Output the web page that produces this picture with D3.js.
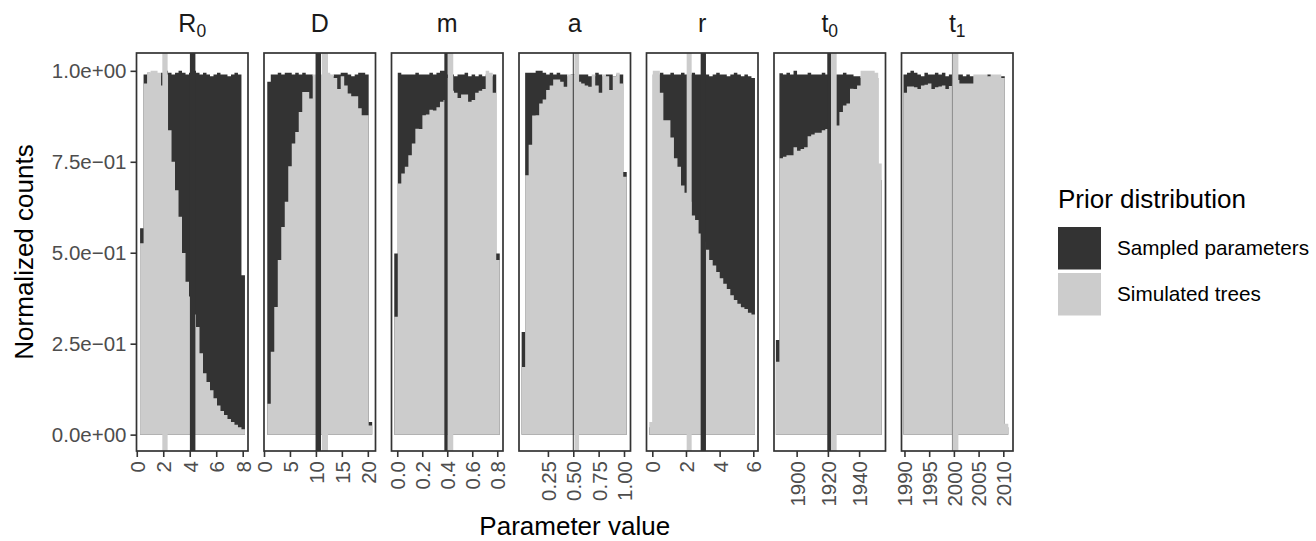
<!DOCTYPE html>
<html>
<head>
<meta charset="utf-8">
<script src="https://cdn.jsdelivr.net/npm/d3@7"></script>
<style>
	body { margin: 0; background: #fff; }
	text { font-family: "Liberation Sans", Arial, Helvetica, sans-serif; }
</style>
</head>
<body>
<svg id="chart" width="1316" height="541"></svg>
<script>

///////////////////////////////////////////////////////////////////////
// data

const paramNames = [ "R", "D", "m", "a", "r", "t", "t" ];
const paramSubs  = [ "0", "",  "",  "",  "",  "0", "1" ];

const xDomains = [
	[ -0.02, 8.40 ], [ 0, 21.48 ], [ -0.046, 0.846 ], [ -0.035, 1.064 ],
	[ -0.345, 6.28 ], [ 1885.5, 1956.9 ], [ 1989.4, 2011.96 ]
];
// first / last bin edge of each histogram
const binRanges = [
	[ 0.25, 8.17 ], [ 0.63, 20.84 ], [ -0.024, 0.82 ], [ -0.009, 1.027 ],
	[ -0.18, 6.10 ], [ 1886.7, 1954.5 ], [ 1989.8, 2011.0 ]
];
const xTicks = [
	[ 0, 2, 4, 6, 8 ], [ 0, 5, 10, 15, 20 ], [ 0, 0.2, 0.4, 0.6, 0.8 ],
	[ 0.25, 0.5, 0.75, 1 ], [ 0, 2, 4, 6 ], [ 1900, 1920, 1940 ],
	[ 1990, 1995, 2000, 2005, 2010 ]
];
const xTickFormats = [ "d", "d", ".1f", ".2f", "d", "d", "d" ];
const yTicks = [ 0, 0.25, 0.5, 0.75, 1 ];

// reference lines: light band and dark line per panel
const refLight = [ 2.13, 11.75, 0.426, 0.534, 2.19, 1923.8, 2000.3 ];
const refDark  = [ 4.22, 10.46, 0.39, 0.5, 3.03, 1920.8, 1999.7 ];

// normalized counts, "Sampled parameters"
const sampled = [
	[ 0.567, 0.99, 0.995, 0.99, 0.99, 0.985, 0.995, 1.0, 0.995, 0.99, 0.995, 1.0, 0.995, 0.99, 0.995, 1.0, 0.995, 0.99, 0.995, 0.99, 0.985, 0.99, 0.995, 0.99, 0.99, 0.985, 0.99, 0.995, 0.99, 0.438 ],
	[ 0.97, 0.99, 0.99, 0.995, 0.99, 0.995, 0.995, 0.99, 0.995, 0.99, 0.995, 0.99, 0.99, 0.985, 0.99, 0.985, 0.99, 0.99, 0.985, 0.99, 0.99, 0.995, 0.995, 0.99, 0.985, 0.99, 0.995, 0.995, 0.99, 0.035 ],
	[ 0.498, 0.995, 0.99, 0.99, 0.99, 0.99, 0.995, 0.99, 0.99, 0.99, 0.995, 0.99, 0.995, 1.0, 1.0, 0.99, 0.99, 0.985, 0.99, 0.99, 0.995, 0.985, 0.99, 0.985, 0.99, 0.985, 0.99, 0.985, 0.99, 0.498 ],
	[ 0.282, 0.995, 0.995, 0.995, 1.0, 1.0, 0.995, 0.99, 0.995, 0.99, 0.995, 0.99, 0.99, 0.985, 0.99, 0.99, 0.99, 0.99, 0.99, 0.985, 0.985, 0.995, 0.99, 0.985, 0.99, 0.99, 0.985, 0.99, 0.99, 0.722 ],
	[ 0.02, 0.99, 0.99, 0.995, 0.99, 0.99, 0.995, 0.99, 0.99, 0.995, 0.99, 0.99, 0.995, 0.99, 0.99, 0.995, 0.99, 0.985, 0.99, 0.995, 0.99, 0.99, 0.985, 0.99, 0.995, 0.99, 0.985, 0.99, 0.985, 0.98 ],
	[ 0.26, 0.993, 0.99, 0.995, 0.99, 1.0, 0.99, 0.99, 0.99, 0.995, 0.99, 0.99, 0.99, 0.995, 0.99, 0.99, 0.995, 0.99, 0.99, 0.995, 0.99, 0.99, 0.985, 0.985, 0.98, 0.98, 0.98, 0.98, 0.98, 0.70 ],
	[ 0.99, 0.995, 1.0, 0.995, 0.99, 0.985, 0.995, 0.99, 0.99, 0.995, 0.99, 0.995, 0.985, 0.99, 0.98, 0.99, 0.99, 0.985, 0.99, 0.985, 0.985, 0.985, 0.98, 0.985, 0.99, 0.985, 0.98, 0.985, 0.985, 0.02 ]
];

// normalized counts, "Simulated trees"
const simulated = [
	[ 0.526, 0.965, 0.995, 1.0, 1.0, 0.995, 0.96, 0.99, 0.837, 0.75, 0.672, 0.599, 0.499, 0.42, 0.38, 0.33, 0.296, 0.224, 0.169, 0.145, 0.122, 0.10, 0.08, 0.065, 0.054, 0.043, 0.035, 0.027, 0.02, 0.015 ],
	[ 0.085, 0.228, 0.351, 0.48, 0.571, 0.64, 0.738, 0.80, 0.832, 0.887, 0.942, 0.942, 0.924, 0.99, 0.99, 0.99, 0.99, 0.995, 0.99, 0.98, 0.95, 0.985, 0.96, 0.938, 0.93, 0.93, 0.897, 0.878, 0.878, 0.025 ],
	[ 0.324, 0.69, 0.718, 0.736, 0.768, 0.80, 0.841, 0.84, 0.878, 0.88, 0.893, 0.891, 0.90, 0.915, 0.92, 0.98, 0.945, 0.94, 0.925, 0.935, 0.935, 0.915, 0.92, 0.94, 0.945, 0.95, 1.0, 0.995, 0.94, 0.48 ],
	[ 0.186, 0.713, 0.797, 0.877, 0.878, 0.91, 0.921, 0.947, 0.96, 0.976, 0.976, 0.97, 0.956, 0.99, 0.99, 0.99, 0.97, 0.965, 0.96, 0.956, 0.99, 0.96, 0.94, 0.99, 0.985, 0.947, 0.985, 0.995, 0.965, 0.709 ],
	[ 0.035, 1.0, 1.0, 0.94, 0.864, 0.864, 0.817, 0.76, 0.736, 0.685, 0.665, 0.64, 0.602, 0.59, 0.553, 0.53, 0.508, 0.48, 0.465, 0.447, 0.43, 0.415, 0.40, 0.383, 0.37, 0.36, 0.35, 0.345, 0.335, 0.33 ],
	[ 0.20, 0.76, 0.764, 0.768, 0.768, 0.79, 0.78, 0.785, 0.79, 0.82, 0.825, 0.83, 0.83, 0.837, 0.84, 0.84, 0.95, 0.85, 0.887, 0.905, 0.91, 0.951, 0.95, 0.96, 1.0, 1.0, 1.0, 1.0, 0.995, 0.745 ],
	[ 0.94, 0.957, 0.957, 0.955, 0.95, 0.96, 0.962, 0.965, 0.95, 0.955, 0.957, 0.96, 0.95, 0.958, 0.965, 0.975, 0.965, 0.965, 0.965, 0.965, 0.99, 0.99, 0.99, 0.99, 0.985, 0.99, 0.99, 0.99, 0.98, 0.03 ]
];

const legendLabels = [ "Sampled parameters", "Simulated trees" ];

///////////////////////////////////////////////////////////////////////
// layout / style

const DARK = "#333333", LIGHT = "#cccccc";
const panelLeft = 136.5, panelStep = 127.5, panelW = 111.5;
const panelTop = 53, panelBottom = 451;
const lightW = [ 5.3, 6, 5.5, 4.7, 5, 5.7, 6 ];
const darkW  = [ 5.5, 5.5, 3.3, 1, 5.3, 3.7, 1 ];
const darkCol = [ DARK, DARK, DARK, DARK, DARK, DARK, "#8c8c8c" ];

const svg = d3.select( "#chart" );

const y = d3.scaleLinear()
	.domain( [ -0.045, 1.049 ] )
	.range( [ panelBottom, panelTop ] );

function sci( v )	{
	if ( v === 0 ) return( "0.0e+00" );
	let e = Math.floor( Math.log10( Math.abs( v ) ) + 1e-9 );
	let m = v / Math.pow( 10, e );
	return( m.toFixed( 1 ) + "e" + ( e < 0 ? "\u2212" : "+" ) + String( Math.abs( e ) ).padStart( 2, "0" ) );
}

paramNames.forEach( ( name, i ) => draw_panel( i ) );
draw_titles();
draw_legend();

///////////////////////////////////////////////////////////////////////

function draw_panel( i )	{

	let left = panelLeft + i * panelStep;
	let x = d3.scaleLinear()
		.domain( xDomains[ i ] )
		.range( [ left, left + panelW ] );

	let n = sampled[ i ].length;
	let w = ( binRanges[ i ][ 1 ] - binRanges[ i ][ 0 ] ) / n;

	// step points: one per bin left edge, plus the closing right edge
	let steps = vals => vals
		.map( ( v, k ) => [ binRanges[ i ][ 0 ] + k * w, v ] )
		.concat( [ [ binRanges[ i ][ 1 ], vals[ n - 1 ] ] ] );

	let area = d3.area()
		.x( d => x( d[ 0 ] ) )
		.y0( y( 0 ) )
		.y1( d => y( d[ 1 ] ) )
		.curve( d3.curveStepAfter );

	svg.append( "clipPath" )
		.attr( "id", "clip" + i )
		.append( "rect" )
			.attr( "x", left ).attr( "y", panelTop )
			.attr( "width", panelW ).attr( "height", panelBottom - panelTop );

	let g = svg.append( "g" ).attr( "clip-path", "url(#clip" + i + ")" );

	g.append( "path" )
		.attr( "d", area( steps( sampled[ i ] ) ) )
		.attr( "fill", DARK );

	g.append( "path" )
		.attr( "d", area( steps( simulated[ i ] ) ) )
		.attr( "fill", LIGHT );

	g.append( "rect" )
		.attr( "x", x( refLight[ i ] ) - lightW[ i ] / 2 )
		.attr( "width", lightW[ i ] )
		.attr( "y", panelTop ).attr( "height", panelBottom - panelTop )
		.attr( "fill", LIGHT );

	g.append( "rect" )
		.attr( "x", x( refDark[ i ] ) - darkW[ i ] / 2 )
		.attr( "width", darkW[ i ] )
		.attr( "y", panelTop ).attr( "height", panelBottom - panelTop )
		.attr( "fill", darkCol[ i ] );

	// panel border
	svg.append( "rect" )
		.attr( "x", left ).attr( "y", panelTop )
		.attr( "width", panelW ).attr( "height", panelBottom - panelTop )
		.attr( "fill", "none" )
		.attr( "stroke", DARK )
		.attr( "stroke-width", 1.7 );

	// x axis
	let ax = svg.append( "g" )
		.attr( "transform", "translate(0," + panelBottom + ")" )
		.call( d3.axisBottom( x )
			.tickValues( xTicks[ i ] )
			.tickFormat( d3.format( xTickFormats[ i ] ) )
			.tickSize( 6 ) );
	ax.select( ".domain" ).remove();
	ax.selectAll( "line" ).attr( "stroke", DARK ).attr( "stroke-width", 1.6 );
	ax.selectAll( "text" )
		.attr( "transform", "rotate(-90)" )
		.attr( "x", -10 ).attr( "y", 0 ).attr( "dy", "0.36em" )
		.attr( "text-anchor", "end" )
		.attr( "fill", "#4d4d4d" )
		.style( "font-size", "20.5px" );

	// y axis on first panel only
	if ( i === 0 )	{
		let ay = svg.append( "g" )
			.attr( "transform", "translate(" + left + ",0)" )
			.call( d3.axisLeft( y )
				.tickValues( yTicks )
				.tickFormat( sci )
				.tickSize( 6 )
				.tickPadding( 4 ) );
		ay.select( ".domain" ).remove();
		ay.selectAll( "line" ).attr( "stroke", DARK ).attr( "stroke-width", 1.6 );
		ay.selectAll( "text" )
			.attr( "fill", "#4d4d4d" )
			.style( "font-size", "20.5px" );
	}

	// strip label
	let strip = svg.append( "text" )
		.attr( "x", left + panelW / 2 )
		.attr( "y", 32 )
		.attr( "text-anchor", "middle" )
		.style( "font-size", "25px" )
		.attr( "fill", "#1a1a1a" )
		.text( paramNames[ i ] );
	if ( paramSubs[ i ] )
		strip.append( "tspan" )
			.attr( "dy", 5 )
			.style( "font-size", "17.5px" )
			.text( paramSubs[ i ] );
}

function draw_titles()	{

	let mid = panelLeft + ( 6 * panelStep + panelW ) / 2;

	svg.append( "text" )
		.attr( "x", mid ).attr( "y", 535 )
		.attr( "text-anchor", "middle" )
		.style( "font-size", "26px" )
		.text( "Parameter value" );

	svg.append( "text" )
		.attr( "transform", "translate(33," + ( ( panelTop + panelBottom ) / 2 ) + ") rotate(-90)" )
		.attr( "text-anchor", "middle" )
		.style( "font-size", "26px" )
		.text( "Normalized counts" );
}

function draw_legend()	{

	let lg = svg.append( "g" );

	lg.append( "text" )
		.attr( "x", 1058 ).attr( "y", 208 )
		.style( "font-size", "26px" )
		.text( "Prior distribution" );

	lg.selectAll( "rect" )
		.data( legendLabels )
		.join( "rect" )
			.attr( "x", 1058 )
			.attr( "y", ( d, k ) => 227 + k * 46 )
			.attr( "width", 43 ).attr( "height", 42.5 )
			.attr( "fill", ( d, k ) => k === 0 ? DARK : LIGHT );

	lg.selectAll( "text.lab" )
		.data( legendLabels )
		.join( "text" )
			.attr( "class", "lab" )
			.attr( "x", 1117 )
			.attr( "y", ( d, k ) => 255 + k * 46 )
			.style( "font-size", "20.7px" )
			.text( d => d );
}

</script>
</body>
</html>
